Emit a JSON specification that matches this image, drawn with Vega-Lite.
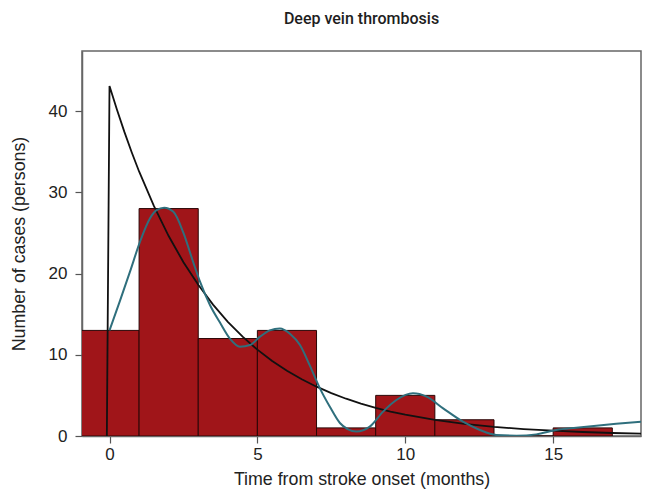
{
  "$schema": "https://vega.github.io/schema/vega-lite/v6.json",
  "autosize": "none",
  "width": 559,
  "height": 385,
  "padding": {"left": 82, "top": 51, "right": 5, "bottom": 57},
  "background": "white",
  "title": {
    "text": "Deep vein thrombosis",
    "font": "Roboto",
    "fontSize": 16,
    "fontWeight": 500,
    "color": "#1e1e1e",
    "offset": 24,
    "anchor": "middle"
  },
  "config": {
    "view": {"stroke": "#666666", "strokeWidth": 1.5},
    "axis": {
      "labelFont": "Liberation Sans",
      "titleFont": "Liberation Sans",
      "labelFontSize": 17,
      "titleFontSize": 17.8,
      "labelColor": "#222222",
      "titleColor": "#222222",
      "titleFontWeight": "normal",
      "grid": false,
      "tickColor": "#555555",
      "domainColor": "#666666",
      "domainWidth": 1.5,
      "tickWidth": 1.2,
      "tickSize": 7
    }
  },
  "datasets": {
    "bars": [
      {"start": -1, "end": 1, "count": 13},
      {"start": 1, "end": 3, "count": 28},
      {"start": 3, "end": 5, "count": 12},
      {"start": 5, "end": 7, "count": 13},
      {"start": 7, "end": 9, "count": 1},
      {"start": 9, "end": 11, "count": 5},
      {"start": 11, "end": 13, "count": 2},
      {"start": 13, "end": 15, "count": 0},
      {"start": 15, "end": 17, "count": 1}
    ],
    "fit": [
      {"t": -0.09, "v": 0},
      {"t": 0, "v": 43.1},
      {"t": 0.25, "v": 40.19},
      {"t": 0.5, "v": 37.47},
      {"t": 0.75, "v": 34.94},
      {"t": 1, "v": 32.57},
      {"t": 1.5, "v": 28.32},
      {"t": 2, "v": 24.62},
      {"t": 2.5, "v": 21.4},
      {"t": 3, "v": 18.61},
      {"t": 3.5, "v": 16.17},
      {"t": 4, "v": 14.06},
      {"t": 4.5, "v": 12.23},
      {"t": 5, "v": 10.63},
      {"t": 5.5, "v": 9.24},
      {"t": 6, "v": 8.03},
      {"t": 6.5, "v": 6.98},
      {"t": 7, "v": 6.07},
      {"t": 7.5, "v": 5.28},
      {"t": 8, "v": 4.59},
      {"t": 8.5, "v": 3.99},
      {"t": 9, "v": 3.47},
      {"t": 9.5, "v": 3.01},
      {"t": 10, "v": 2.62},
      {"t": 11, "v": 1.98},
      {"t": 12, "v": 1.5},
      {"t": 13, "v": 1.13},
      {"t": 14, "v": 0.85},
      {"t": 15, "v": 0.65},
      {"t": 16, "v": 0.49},
      {"t": 17, "v": 0.37},
      {"t": 18, "v": 0.28}
    ],
    "smooth": [
      {"t": 0.0, "v": 13.0},
      {"t": 0.35, "v": 16.6},
      {"t": 0.69, "v": 20.2},
      {"t": 1.03, "v": 23.9},
      {"t": 1.37, "v": 26.8},
      {"t": 1.59, "v": 27.8},
      {"t": 1.85, "v": 28.1},
      {"t": 2.16, "v": 27.6},
      {"t": 2.49, "v": 25.1},
      {"t": 2.83, "v": 21.4},
      {"t": 3.06, "v": 19.0},
      {"t": 3.4, "v": 16.1},
      {"t": 3.73, "v": 14.0},
      {"t": 4.07, "v": 12.0},
      {"t": 4.41, "v": 11.0},
      {"t": 4.75, "v": 11.2},
      {"t": 5.08, "v": 12.2},
      {"t": 5.42, "v": 13.0},
      {"t": 5.76, "v": 13.25},
      {"t": 6.1, "v": 12.6},
      {"t": 6.44, "v": 11.2},
      {"t": 6.77, "v": 8.7},
      {"t": 7.11, "v": 5.9},
      {"t": 7.45, "v": 3.6},
      {"t": 7.79, "v": 1.6},
      {"t": 8.05, "v": 0.85},
      {"t": 8.35, "v": 0.55},
      {"t": 8.8, "v": 1.15},
      {"t": 9.25, "v": 3.0},
      {"t": 9.7, "v": 4.43},
      {"t": 10.26, "v": 5.25},
      {"t": 10.72, "v": 4.84},
      {"t": 11.28, "v": 3.4},
      {"t": 11.95, "v": 1.76},
      {"t": 12.52, "v": 0.74},
      {"t": 13.08, "v": 0.12},
      {"t": 13.76, "v": 0.04},
      {"t": 14.43, "v": 0.2},
      {"t": 15.1, "v": 0.74},
      {"t": 15.78, "v": 1.02},
      {"t": 16.46, "v": 1.27},
      {"t": 17.13, "v": 1.5},
      {"t": 17.97, "v": 1.76}
    ]
  },
  "layer": [
    {
      "data": {"name": "bars"},
      "mark": {"type": "rect", "fill": "#a01519", "stroke": "#2a0606", "strokeWidth": 1, "clip": true},
      "encoding": {
        "x": {
          "field": "start", "type": "quantitative",
          "scale": {"domain": [-0.93, 17.97], "nice": false, "zero": false},
          "axis": {"values": [0, 5, 10, 15], "title": "Time from stroke onset (months)", "labelPadding": 3, "titlePadding": 8, "labelFlush": false}
        },
        "x2": {"field": "end"},
        "y": {
          "field": "count", "type": "quantitative",
          "scale": {"domain": [0, 47.4], "nice": false},
          "axis": {"values": [0, 10, 20, 30, 40], "title": "Number of cases (persons)", "labelPadding": 8, "titlePadding": 20, "labelFlush": false}
        },
        "y2": {"datum": 0}
      }
    },
    {
      "data": {"name": "fit"},
      "mark": {"type": "line", "color": "#111111", "strokeWidth": 1.8, "clip": true},
      "encoding": {
        "x": {"field": "t", "type": "quantitative"},
        "y": {"field": "v", "type": "quantitative"}
      }
    },
    {
      "data": {"name": "smooth"},
      "mark": {"type": "line", "color": "#2f6f7d", "strokeWidth": 2, "interpolate": "monotone", "clip": true},
      "encoding": {
        "x": {"field": "t", "type": "quantitative"},
        "y": {"field": "v", "type": "quantitative"}
      }
    }
  ]
}
